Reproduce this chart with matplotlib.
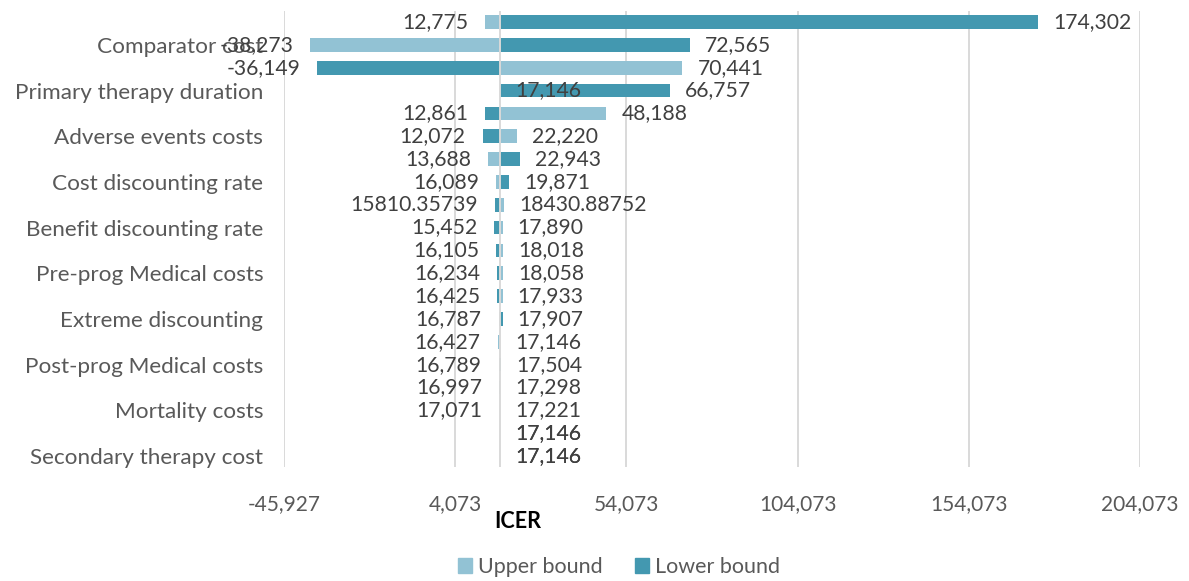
import matplotlib.pyplot as plt
import numpy as np
from matplotlib.patches import Patch

# ── data ────────────────────────────────────────────────────────────────────
base_icer = 17146

row_labels = [
    '', 'Comparator cost',
    '', 'Primary therapy duration',
    '', 'Adverse events costs',
    '', 'Cost discounting rate',
    '', 'Benefit discounting rate',
    '', 'Pre-prog Medical costs',
    '', 'Extreme discounting',
    '', 'Post-prog Medical costs',
    '', 'Mortality costs',
    '', 'Secondary therapy cost',
]

upper_bound = [12775, -38273, 70441, 17146, 48188, 22220, 13688, 16089,
               18430.88752, 17890, 18018, 18058, 17933, 16787, 16427, 16789,
               16997, 17071, 17146, 17146]
lower_bound = [174302, 72565, -36149, 66757, 12861, 12072, 22943, 19871,
               15810.35739, 15452, 16105, 16234, 16425, 17907, 17146, 17504,
               17298, 17221, 17146, 17146]

xticks = [-45927, 4073, 54073, 104073, 154073, 204073]

# ── style ───────────────────────────────────────────────────────────────────
plt.rcParams['font.family'] = ['Lato', 'DejaVu Sans']
C_UPPER = '#92C2D4'
C_LOWER = '#4398B0'
C_GRID = '#D9D9D9'
C_TXT = '#595959'
C_LBL = '#404040'

fig = plt.figure(figsize=(11.89, 5.81), dpi=100)
ax = fig.add_axes([284 / 1189, 113.6 / 581, (1140 - 284) / 1189, 456.8 / 581])

y = np.arange(len(row_labels))
up = np.array(upper_bound, dtype=float)
lo = np.array(lower_bound, dtype=float)

ax.barh(y, up - base_icer, left=base_icer, height=0.6, color=C_UPPER, zorder=2)
ax.barh(y, lo - base_icer, left=base_icer, height=0.6, color=C_LOWER, zorder=2)
ax.axvline(base_icer, color=C_GRID, lw=1.4, zorder=3)


def fmt(v):
    if float(v).is_integer():
        return f'{int(v):,}'
    return f'{v}'


for yi, vals in zip(y, zip(up, lo)):
    for v in vals:
        if v < base_icer:
            ax.annotate(fmt(v), (v, yi), xytext=(-17, 0), textcoords='offset pixels',
                        ha='right', va='center', fontsize=15.2, color=C_LBL, zorder=4)
        else:
            ax.annotate(fmt(v), (v, yi), xytext=(15, 0), textcoords='offset pixels',
                        ha='left', va='center', fontsize=15.2, color=C_LBL, zorder=4)

ax.set_xlim(xticks[0], xticks[-1])
ax.set_ylim(len(row_labels) - 0.5, -0.5)
ax.set_xticks(xticks)
ax.set_xticklabels([f'{t:,}' for t in xticks], fontsize=15, color=C_TXT)
ax.set_yticks(y)
ax.set_yticklabels(row_labels, fontsize=16.2, color=C_TXT)
ax.tick_params(axis='both', length=0)
ax.tick_params(axis='x', pad=19)
ax.tick_params(axis='y', pad=15)
ax.grid(axis='x', color=C_GRID, lw=1.4, zorder=0)
ax.set_axisbelow(True)
for s in ax.spines.values():
    s.set_visible(False)

fig.text(518 / 1189, 1 - 522 / 581, 'ICER', fontsize=15.5, fontweight='bold',
         color='black', ha='center', va='center')

handles = [Patch(color=C_UPPER, label='Upper bound'),
           Patch(color=C_LOWER, label='Lower bound')]
fig.legend(handles=handles, loc='center', bbox_to_anchor=(619 / 1189, 1 - 567 / 581),
           ncol=2, frameon=False, fontsize=15.5, labelcolor=C_TXT,
           handlelength=0.65, handleheight=0.65, handletextpad=0.3, columnspacing=1.5)

fig.savefig('out.png', dpi=100, facecolor='white')
